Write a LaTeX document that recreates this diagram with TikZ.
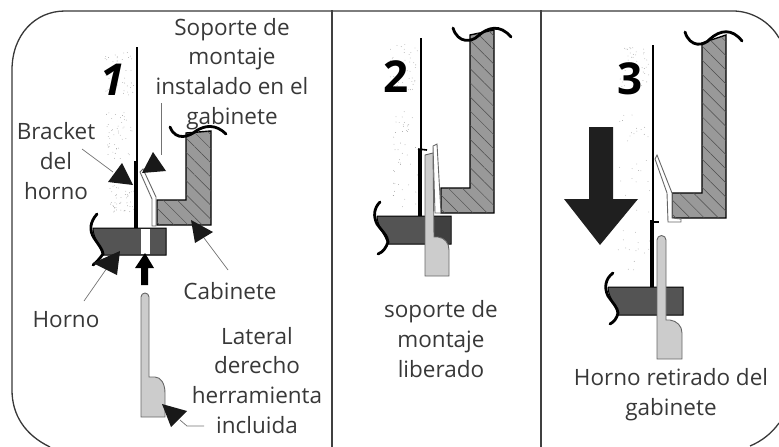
\documentclass[tikz,border=0pt]{standalone}
\usepackage{fontspec}
\setmainfont{Open Sans}
\usetikzlibrary{patterns.meta}
\definecolor{ink}{gray}{0.22}
\definecolor{ovenfill}{gray}{0.33}
\definecolor{cabfill}{gray}{0.6}
\definecolor{toolfill}{gray}{0.8}
\tikzset{
  lbl/.style={text=ink,font=\fontsize{22.5}{29.6}\selectfont,align=center,anchor=base,inner sep=0pt},
  num/.style={text=black,font=\fontsize{44}{44}\selectfont\bfseries,inner sep=0pt},
  frameline/.style={draw=ink,line width=1.3pt},
  divider/.style={draw=black!75,line width=2.6pt},
  wall/.style={draw=black,line width=2.3pt},
  wallthick/.style={draw=black,line width=3.8pt},
  wave/.style={draw=black,line width=2.8pt,line cap=round},
  cabinet/.style={fill=cabfill,draw=black,line width=1.4pt,postaction={pattern={Lines[angle=-45,distance=10pt,line width=.5pt]},pattern color=black!70}},
  oven/.style={fill=ovenfill,draw=black,line width=1pt},
  tool/.style={fill=toolfill,draw=black!60,line width=.9pt},
  strip/.style={fill=white,draw=black!60,line width=.9pt},
  pointer/.style={fill=black!90,draw=none},
  leader/.style={draw=black!55,line width=.7pt},
  bigarrow/.style={fill=black!88,draw=none},
  dotty/.style={fill=black!40}
}
\newcommand{\dotpatch}[4]{%
  \foreach \k in {1,...,46}{%
    \pgfmathsetmacro{\dx}{#1+rnd*(#3-#1)}%
    \pgfmathsetmacro{\dy}{#2+rnd*(#4-#2)}%
    \fill[dotty] (\dx,\dy) circle (.4);%
  }}
\begin{document}
\begin{tikzpicture}[x=1pt,y=-1pt]
\pgfmathsetseed{7}
\useasboundingbox (0,0) rectangle (779,447);
% frame
\draw[frameline] (50,447) .. controls (25,435) and (12,415) .. (12,390) -- (12,70) .. controls (12,35) and (35,11) .. (65,11) -- (733,11) .. controls (752,11) and (770,22) .. (779,38);
\draw[frameline] (750,446) .. controls (762,441) and (772,433) .. (779,423);
\draw[divider] (332,10) -- (332,447);
\draw[divider] (541,10) -- (541,447);

% ---------- panel 1
\dotpatch{105}{50}{134}{95}
\dotpatch{106}{112}{134}{160}
\dotpatch{110}{185}{134}{212}
\node[num,font=\fontsize{44}{44}\selectfont\bfseries\itshape] (n1) at (113,80) {1};
\draw[wall] (137,47) -- (137,228);
\draw[wallthick] (136,161) -- (136,228);
\draw[cabinet] (186,133) -- (186,200) -- (157,200) -- (157,225) -- (211,225) -- (211,131) -- cycle;
\draw[wave] (170,127) .. controls (176,142) and (190,136) .. (196,131) .. controls (205,125) and (216,124) .. (226,134);
\draw[strip] (140,172) -- (143,169) -- (156,197) -- (156,226) -- (152,226) -- (152,199) -- cycle;
\draw[oven] (93,228) -- (166,228) -- (166,255) -- (103,255) .. controls (100,245) and (93,238) .. (93,228);
\fill[white] (141,229) rectangle (150,254);
\draw[wave] (97,214) .. controls (90,222) and (89,230) .. (94,238) .. controls (98,244) and (103,250) .. (103,254) .. controls (100,258) and (97,262) .. (93,265);
\fill[black] (145,253) -- (154,268) -- (148,268) -- (148,285) -- (141,285) -- (141,268) -- (135,268) -- cycle;
\draw[tool] (141,297) arc[start angle=180,end angle=360,radius=4] -- (149,377) -- (155,377) .. controls (161,377) and (165,384) .. (165,393) -- (165,417) -- (141,417) -- cycle;
% pointers and leaders
\coordinate (lb1) at (82,149); \coordinate (lb2) at (113,172);
\coordinate (ls1) at (161,103); \coordinate (ls2) at (161,155);
\coordinate (lc1) at (204,238); \coordinate (lc2) at (228,270);
\coordinate (lh1) at (107,268); \coordinate (lh2) at (84,301);
\coordinate (lt1) at (180,420); \coordinate (lt2) at (187,426); \coordinate (lt3) at (204,426);
\draw[leader] (lb1) -- (lb2);
\draw[leader] (ls1) -- (ls2);
\draw[leader] (lc1) -- (lc2);
\draw[leader] (lh1) -- (lh2);
\draw[leader] (lt1) -- (lt2) -- (lt3);
\fill[pointer] (122,163) -- (108,182) -- (133,185) -- cycle;
\fill[pointer] (153,152) -- (142,173) -- (166,171) -- cycle;
\fill[pointer] (191,220) -- (213,232) -- (195,243) -- cycle;
\fill[pointer] (120,251) -- (93,263) -- (117,275) -- cycle;
\fill[pointer] (162,404) -- (187,411) -- (171,427) -- cycle;
% labels
\node[lbl] (t1) at (232,124) {Soporte de\\montaje\\instalado en el\\gabinete};
\node[lbl] (t2) at (56,199) {Bracket\\del\\horno};
\node[lbl] (t3) at (230,299) {Cabinete};
\node[lbl] (t4) at (66,327) {Horno};
\node[lbl] (t5) at (257,433) {Lateral\\derecho\\herramienta\\incluida};

% ---------- panel 2
\dotpatch{389}{44}{418}{92}
\dotpatch{391}{110}{418}{208}
\node[num] (n2) at (396,77) {2};
\draw[wall] (421,38) -- (421,150);
\draw[wallthick] (420,149) -- (420,216);
\draw[cabinet] (470,35) -- (470,188) -- (441,188) -- (441,213) -- (494,213) -- (494,30) -- cycle;
\draw[wave] (453,28) .. controls (458,44) and (472,42) .. (478,36) .. controls (488,27) and (500,24) .. (511,37);
\draw[oven] (377,216) -- (451,216) -- (451,244) -- (388,244) .. controls (385,234) and (377,226) .. (377,216);
\fill[black!75] (434,217) rectangle (450,243);
\draw[wave] (380,202) .. controls (374,208) and (373,216) .. (377,224) .. controls (381,230) and (388,236) .. (388,242) .. controls (386,248) and (383,252) .. (378,254);
\draw[black,line width=1.6pt] (418,149) -- (427,150);
\draw[strip] (433,146) -- (437,144) -- (441,213) -- (435,213) -- cycle;
\draw[tool] (425,155) -- (433,153) -- (434,237) -- (438,237) .. controls (445,238) and (449,243) .. (449,250) -- (449,276) -- (425,276) -- cycle;
\node[lbl] (t6) at (441,377) {soporte de\\montaje\\liberado};

% ---------- panel 3
\dotpatch{620}{46}{650}{92}
\dotpatch{618}{110}{650}{270}
\node[num] (n3) at (630,79) {3};
\draw[wall] (653,45) -- (653,220);
\draw[wallthick] (652,220) -- (652,287);
\draw[black,line width=1.6pt] (650,222) -- (659,222);
\draw[bigarrow,fill=black!88] (589,127) -- (613,127) -- (613,199) -- (638,199) -- (600,245) -- (564,199) -- (589,199) -- cycle;
\draw[cabinet] (702,43) -- (702,193) -- (672,193) -- (672,218) -- (726,218) -- (726,35) -- cycle;
\draw[wave] (685,32) .. controls (690,48) and (704,46) .. (710,39) .. controls (720,30) and (732,28) .. (742,41);
\draw[strip] (655,159) -- (657,155) -- (672,193) -- (672,218) -- (681,219) -- (681,222) -- (668,222) -- (667,193) -- cycle;
\draw[oven] (608,287) -- (683,287) -- (683,315) -- (618,315) .. controls (616,305) and (608,297) .. (608,287);
\draw[wave] (613,273) .. controls (605,279) and (604,288) .. (608,296) .. controls (612,302) and (618,308) .. (618,313) .. controls (617,318) and (614,322) .. (610,324);
\draw[tool] (657,240) arc[start angle=180,end angle=360,radius=4.5] -- (666,320) -- (670,320) .. controls (677,321) and (682,326) .. (682,333) -- (682,359) -- (657,359) -- cycle;
\node[lbl] (t7) at (671,415) {Horno retirado del\\gabinete};
\end{tikzpicture}
\end{document}
